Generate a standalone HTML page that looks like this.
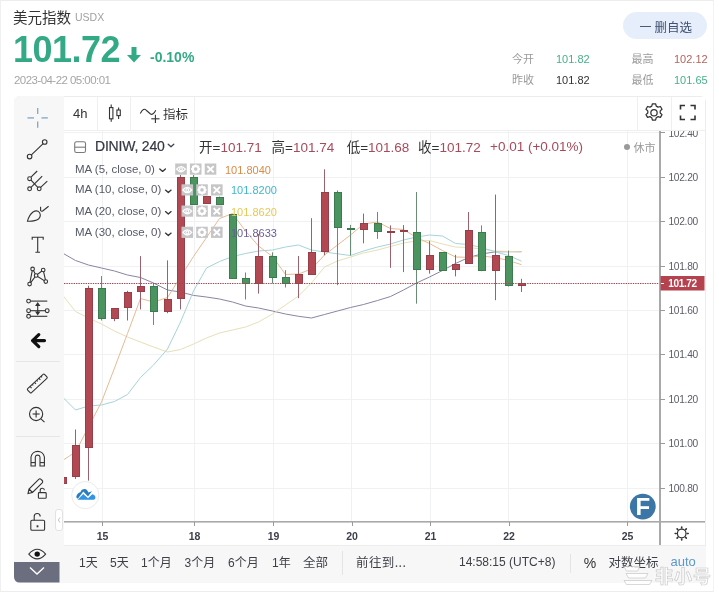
<!DOCTYPE html>
<html><head><meta charset="utf-8">
<style>
*{margin:0;padding:0;box-sizing:border-box}
html,body{width:719px;height:593px;overflow:hidden;background:#fff}
body{position:relative;font-family:"Liberation Sans","Noto Sans CJK SC",sans-serif;color:#333}
.a{position:absolute;white-space:nowrap}
.cjk{font-family:"Noto Sans CJK SC","Liberation Sans",sans-serif}
#pageb{position:absolute;left:0;top:0;width:714px;height:592px;border-top:1px solid #ededed;border-left:1px solid #f0f0f0;border-right:1px solid #f3f3f3;border-bottom:1px solid #ededed}
#box{position:absolute;left:14px;top:96px;width:692px;height:487px;border:1px solid #ececec;border-radius:6px;overflow:hidden;background:#fff}
#ltb{position:absolute;left:14px;top:96px;width:50px;height:487px;background:#f7f7f8;border-radius:6px 0 0 6px}
#btb{position:absolute;left:64px;top:545px;width:642px;height:38px;background:#f7f7f8;border-radius:0 0 6px 0}
#ttb{position:absolute;left:64px;top:97px;width:641px;height:34px;border-bottom:1px solid #efefef;background:#fff}
.vsep{position:absolute;width:1px;background:#efefef}
.hsep{position:absolute;height:1px;background:#e6e6e6}
.pl{position:absolute;margin-top:1px;left:668.5px;font-size:10.2px;color:#5a5d66;line-height:14px;letter-spacing:-0.3px}
.ptk{position:absolute;left:660px;width:5px;height:1px;background:#9a9a9a}
.tl{position:absolute;top:528.5px;width:30px;text-align:center;font-size:10.5px;font-weight:bold;color:#3c3f4a;line-height:14px}
.ttk{position:absolute;top:522px;width:1px;height:4px;background:#9a9a9a}
.mal{position:absolute;left:75px;font-size:11.5px;color:#555a66;line-height:14px}
.mav{position:absolute;font-size:11px;line-height:14px}
.ib{position:absolute;width:12px;height:11px;background:#c9c9cb}
.bt{position:absolute;top:554px;font-size:12px;color:#3d3f45;line-height:16px}
</style></head><body>
<div id="pageb"></div>

<!-- header -->
<div class="a cjk" style="left:13px;top:6.5px;font-size:14.5px;color:#333;line-height:20px">美元指数</div>
<div class="a" style="left:75px;top:11px;font-size:10.5px;color:#a0a0a0;line-height:13px">USDX</div>
<div class="a" style="left:13px;top:29.5px;font-size:36px;font-weight:bold;color:#33aa85;line-height:40px;letter-spacing:-0.5px">101.72</div>
<svg class="a" style="left:126px;top:46px" width="16" height="17" viewBox="0 0 16 17"><path d="M5.5 1h5v8h4.5L8 16.5 1 9h4.5z" fill="#33aa85"/></svg>
<div class="a" style="left:150px;top:49px;font-size:14px;font-weight:bold;color:#33aa85;line-height:16px">-0.10%</div>
<div class="a" style="left:14px;top:73px;font-size:11.5px;color:#a5a5a5;line-height:14px;letter-spacing:-0.55px">2023-04-22 05:00:01</div>

<div class="a" style="left:623px;top:12px;width:84px;height:27px;border-radius:14px;background:#e7eefb"></div>
<div class="a" style="left:640px;top:25.5px;width:11px;height:1px;background:#4a5a75"></div>
<div class="a cjk" style="left:654.5px;top:17.5px;font-size:12.5px;color:#3f5070;line-height:18px">删自选</div>

<div class="a cjk" style="left:512px;top:51.3px;font-size:11px;color:#9a9a9a;line-height:15px">今开</div>
<div class="a" style="left:556px;top:52px;font-size:11px;color:#47b08c;line-height:14px">101.82</div>
<div class="a cjk" style="left:631.5px;top:51.3px;font-size:11px;color:#9a9a9a;line-height:15px">最高</div>
<div class="a" style="left:674px;top:52px;font-size:11px;color:#b4635c;line-height:14px">102.12</div>
<div class="a cjk" style="left:512px;top:72.3px;font-size:11px;color:#9a9a9a;line-height:15px">昨收</div>
<div class="a" style="left:556px;top:73px;font-size:11px;color:#333;line-height:14px">101.82</div>
<div class="a cjk" style="left:631.5px;top:72.3px;font-size:11px;color:#9a9a9a;line-height:15px">最低</div>
<div class="a" style="left:674px;top:73px;font-size:11px;color:#47b08c;line-height:14px">101.65</div>

<!-- chart container -->
<div id="box"></div>
<div id="ltb"></div>
<div id="btb"></div>
<div id="ttb"></div>
<!-- toolbar separators -->
<div class="vsep" style="left:97px;top:97px;height:33px"></div>
<div class="vsep" style="left:130px;top:97px;height:33px"></div>
<div class="vsep" style="left:194px;top:97px;height:33px"></div>
<div class="vsep" style="left:637px;top:97px;height:33px"></div>
<div class="vsep" style="left:671px;top:97px;height:33px"></div>
<div class="hsep" style="left:16px;top:361px;width:44px"></div>
<div class="hsep" style="left:16px;top:436px;width:44px"></div>
<div class="vsep" style="left:342px;top:551px;height:24px;background:#e4e4e4"></div>
<div class="vsep" style="left:570px;top:554px;height:19px;background:#e4e4e4"></div>
<!-- time axis bottom border -->
<div class="a" style="left:64px;top:545px;width:642px;height:1px;background:#ececec"></div>

<!-- top toolbar content -->
<div class="a" style="left:73px;top:106px;font-size:13px;color:#333;line-height:16px">4h</div>
<svg class="a" style="left:100px;top:100px" width="100" height="28" viewBox="100 100 100 28">
 <g stroke="#333" stroke-width="1.1" fill="none">
  <line x1="111.2" y1="104.5" x2="111.2" y2="121.8"/><rect x="109.5" y="107.6" width="3.4" height="11.2" fill="#fff"/>
  <line x1="118.6" y1="107.5" x2="118.6" y2="119"/><rect x="116.9" y="110" width="3.4" height="5.6" fill="#fff"/>
  <path d="M140.3 113.4 Q143.5 107 146.5 110.5 L150.5 114 Q153 115.5 155.8 110.3"/>
  <line x1="151.3" y1="118.8" x2="159.5" y2="118.8"/><line x1="155.4" y1="114.7" x2="155.4" y2="122.9"/>
 </g>
</svg>
<div class="a cjk" style="left:163px;top:105px;font-size:12.5px;color:#333;line-height:18px">指标</div>
<!-- gear & fullscreen -->
<svg class="a" style="left:640px;top:100px" width="66" height="28" viewBox="640 100 66 28">
 <g fill="none" stroke="#333" stroke-width="1.2">
  <g transform="translate(654 112.7) scale(1.13) translate(-654 -112.7)"><path d="M652.6 104.8 h2.8 l0.6 2.1 1.6 0.9 2.1-0.6 1.4 2.4 -1.6 1.5 v1.8 l1.6 1.5 -1.4 2.4 -2.1-0.6 -1.6 0.9 -0.6 2.1 h-2.8 l-0.6-2.1 -1.6-0.9 -2.1 0.6 -1.4-2.4 1.6-1.5 v-1.8 l-1.6-1.5 1.4-2.4 2.1 0.6 1.6-0.9z" stroke-linejoin="round" stroke-width="1.1"/><circle cx="654" cy="112.7" r="2.8" stroke-width="1.1"/></g>
  <path d="M680.5 109.5v-4h4.5 M690.5 105.5h4.5v4 M695 115.5v4h-4.5 M685 119.5h-4.5v-4" stroke-width="1.6"/>
 </g>
</svg>

<!-- chart -->
<svg class="a" style="left:0;top:0" width="719" height="593" viewBox="0 0 719 593">
<defs><clipPath id="cp"><rect x="64" y="131" width="595" height="390"/></clipPath></defs>
<g clip-path="url(#cp)">
<line x1="102.5" y1="131" x2="102.5" y2="521" stroke="#f0f1f3" stroke-width="1"/>
<line x1="194.5" y1="131" x2="194.5" y2="521" stroke="#f0f1f3" stroke-width="1"/>
<line x1="273.5" y1="131" x2="273.5" y2="521" stroke="#f0f1f3" stroke-width="1"/>
<line x1="351.5" y1="131" x2="351.5" y2="521" stroke="#f0f1f3" stroke-width="1"/>
<line x1="430.5" y1="131" x2="430.5" y2="521" stroke="#f0f1f3" stroke-width="1"/>
<line x1="508.5" y1="131" x2="508.5" y2="521" stroke="#f0f1f3" stroke-width="1"/>
<line x1="627.5" y1="131" x2="627.5" y2="521" stroke="#f0f1f3" stroke-width="1"/>
<line x1="64" y1="132.5" x2="659" y2="132.5" stroke="#f0f1f3" stroke-width="1"/>
<line x1="64" y1="177.5" x2="659" y2="177.5" stroke="#f0f1f3" stroke-width="1"/>
<line x1="64" y1="221.5" x2="659" y2="221.5" stroke="#f0f1f3" stroke-width="1"/>
<line x1="64" y1="266.5" x2="659" y2="266.5" stroke="#f0f1f3" stroke-width="1"/>
<line x1="64" y1="310.5" x2="659" y2="310.5" stroke="#f0f1f3" stroke-width="1"/>
<line x1="64" y1="354.5" x2="659" y2="354.5" stroke="#f0f1f3" stroke-width="1"/>
<line x1="64" y1="399.5" x2="659" y2="399.5" stroke="#f0f1f3" stroke-width="1"/>
<line x1="64" y1="443.5" x2="659" y2="443.5" stroke="#f0f1f3" stroke-width="1"/>
<line x1="64" y1="488.5" x2="659" y2="488.5" stroke="#f0f1f3" stroke-width="1"/>
<polyline points="62.5,253.0 75.5,260.5 88.5,265.0 101.5,268.0 114.5,271.0 127.5,275.0 140.5,277.5 153.5,283.0 167.5,290.0 180.5,292.0 193.5,295.4 206.5,297.0 219.5,299.0 232.5,302.0 245.5,306.0 258.5,308.0 272.5,311.0 285.5,314.0 298.5,316.3 311.5,318.0 324.5,314.5 337.5,311.0 350.5,307.5 363.5,304.5 377.5,300.5 390.5,296.5 403.5,290.0 416.5,283.0 429.5,277.0 442.5,270.5 455.5,263.5 468.5,257.5 481.5,254.0 495.5,251.8 508.5,251.7 521.5,251.7" fill="none" stroke="#8a85a3" stroke-width="1" stroke-linejoin="round"/>
<polyline points="62.5,295.0 75.5,311.5 88.5,318.0 101.5,324.0 114.5,331.0 127.5,337.0 140.5,342.0 153.5,347.0 167.5,352.0 180.5,349.5 193.5,344.0 206.5,338.0 219.5,333.0 232.5,330.0 245.5,327.0 258.5,322.0 272.5,314.0 285.5,305.0 298.5,296.0 311.5,283.0 324.5,267.0 337.5,261.0 350.5,257.0 363.5,253.0 377.5,250.0 390.5,246.5 403.5,243.0 416.5,241.0 429.5,240.5 442.5,244.0 455.5,247.0 468.5,247.5 481.5,249.0 495.5,251.0 508.5,251.5 521.5,251.8" fill="none" stroke="#e6e0b6" stroke-width="1" stroke-linejoin="round"/>
<polyline points="62.5,397.0 75.5,410.0 88.5,406.0 101.5,405.0 114.5,401.5 127.5,394.5 140.5,377.5 153.5,365.0 167.5,349.0 180.5,322.0 193.5,291.0 206.5,268.0 219.5,261.5 232.5,256.5 245.5,253.5 258.5,251.0 272.5,250.0 285.5,247.0 298.5,245.0 311.5,250.0 324.5,252.0 337.5,253.8 350.5,255.5 363.5,251.0 377.5,247.0 390.5,244.0 403.5,240.0 416.5,237.0 429.5,235.0 442.5,236.0 455.5,243.5 468.5,244.5 481.5,247.5 495.5,252.0 508.5,255.5 521.5,261.2" fill="none" stroke="#a6d4da" stroke-width="1" stroke-linejoin="round"/>
<polyline points="62.5,460.5 75.5,452.0 88.5,427.0 101.5,402.0 114.5,368.0 127.5,333.5 140.5,298.5 153.5,302.0 167.5,297.5 180.5,277.0 193.5,256.5 206.5,237.5 219.5,218.5 232.5,213.5 245.5,231.0 258.5,246.0 272.5,256.5 285.5,274.5 298.5,274.0 311.5,269.0 324.5,255.0 337.5,245.0 350.5,235.0 363.5,224.0 377.5,222.0 390.5,228.5 403.5,229.5 416.5,237.5 429.5,243.5 442.5,250.5 455.5,257.0 468.5,257.3 481.5,256.0 495.5,257.5 508.5,260.5 521.5,264.7" fill="none" stroke="#e7bb94" stroke-width="1" stroke-linejoin="round"/>
<line x1="62.5" y1="476.6" x2="62.5" y2="483.5" stroke="#9a626a" stroke-width="1"/>
<rect x="59" y="477" width="8" height="7" fill="#963f4a"/>
<rect x="60" y="478" width="6" height="5" fill="#b24852"/>
<line x1="75.5" y1="429.5" x2="75.5" y2="479.0" stroke="#9a626a" stroke-width="1"/>
<rect x="72" y="445" width="8" height="32" fill="#963f4a"/>
<rect x="73" y="446" width="6" height="30" fill="#b24852"/>
<line x1="88.5" y1="285.7" x2="88.5" y2="480.6" stroke="#9a626a" stroke-width="1"/>
<rect x="85" y="288" width="8" height="160" fill="#963f4a"/>
<rect x="86" y="289" width="6" height="158" fill="#b24852"/>
<line x1="101.5" y1="276.1" x2="101.5" y2="320.5" stroke="#6a8c74" stroke-width="1"/>
<rect x="98" y="288" width="8" height="31" fill="#3c7b4e"/>
<rect x="99" y="289" width="6" height="29" fill="#4b935f"/>
<line x1="114.5" y1="308.0" x2="114.5" y2="321.2" stroke="#9a626a" stroke-width="1"/>
<rect x="111" y="308" width="8" height="11" fill="#963f4a"/>
<rect x="112" y="309" width="6" height="9" fill="#b24852"/>
<line x1="127.5" y1="290.8" x2="127.5" y2="320.5" stroke="#9a626a" stroke-width="1"/>
<rect x="124" y="292" width="8" height="16" fill="#963f4a"/>
<rect x="125" y="293" width="6" height="14" fill="#b24852"/>
<line x1="140.5" y1="256.1" x2="140.5" y2="309.4" stroke="#9a626a" stroke-width="1"/>
<rect x="137" y="286" width="8" height="6" fill="#963f4a"/>
<rect x="138" y="287" width="6" height="4" fill="#b24852"/>
<line x1="153.5" y1="283.0" x2="153.5" y2="325.0" stroke="#6a8c74" stroke-width="1"/>
<rect x="150" y="286" width="8" height="26" fill="#3c7b4e"/>
<rect x="151" y="287" width="6" height="24" fill="#4b935f"/>
<line x1="167.5" y1="260.4" x2="167.5" y2="313.2" stroke="#9a626a" stroke-width="1"/>
<rect x="164" y="299" width="8" height="13" fill="#963f4a"/>
<rect x="165" y="300" width="6" height="11" fill="#b24852"/>
<line x1="180.5" y1="175.0" x2="180.5" y2="309.4" stroke="#9a626a" stroke-width="1"/>
<rect x="177" y="177" width="8" height="122" fill="#963f4a"/>
<rect x="178" y="178" width="6" height="120" fill="#b24852"/>
<line x1="193.5" y1="175.0" x2="193.5" y2="205.0" stroke="#6a8c74" stroke-width="1"/>
<rect x="190" y="177" width="8" height="28" fill="#3c7b4e"/>
<rect x="191" y="178" width="6" height="26" fill="#4b935f"/>
<line x1="206.5" y1="196.3" x2="206.5" y2="204.0" stroke="#9a626a" stroke-width="1"/>
<rect x="203" y="196" width="8" height="8" fill="#963f4a"/>
<rect x="204" y="197" width="6" height="6" fill="#b24852"/>
<line x1="219.5" y1="196.6" x2="219.5" y2="204.7" stroke="#6a8c74" stroke-width="1"/>
<rect x="216" y="197" width="8" height="8" fill="#3c7b4e"/>
<rect x="217" y="198" width="6" height="6" fill="#4b935f"/>
<line x1="232.5" y1="214.3" x2="232.5" y2="278.9" stroke="#6a8c74" stroke-width="1"/>
<rect x="229" y="214" width="8" height="65" fill="#3c7b4e"/>
<rect x="230" y="215" width="6" height="63" fill="#4b935f"/>
<line x1="245.5" y1="272.5" x2="245.5" y2="299.5" stroke="#6a8c74" stroke-width="1"/>
<rect x="242" y="278" width="8" height="6" fill="#3c7b4e"/>
<rect x="243" y="279" width="6" height="4" fill="#4b935f"/>
<line x1="258.5" y1="234.0" x2="258.5" y2="293.6" stroke="#9a626a" stroke-width="1"/>
<rect x="255" y="256" width="8" height="28" fill="#963f4a"/>
<rect x="256" y="257" width="6" height="26" fill="#b24852"/>
<line x1="272.5" y1="252.3" x2="272.5" y2="283.5" stroke="#6a8c74" stroke-width="1"/>
<rect x="269" y="256" width="8" height="22" fill="#3c7b4e"/>
<rect x="270" y="257" width="6" height="20" fill="#4b935f"/>
<line x1="285.5" y1="270.2" x2="285.5" y2="287.5" stroke="#6a8c74" stroke-width="1"/>
<rect x="282" y="277" width="8" height="7" fill="#3c7b4e"/>
<rect x="283" y="278" width="6" height="5" fill="#4b935f"/>
<line x1="298.5" y1="256.0" x2="298.5" y2="298.2" stroke="#9a626a" stroke-width="1"/>
<rect x="295" y="274" width="8" height="10" fill="#963f4a"/>
<rect x="296" y="275" width="6" height="8" fill="#b24852"/>
<line x1="311.5" y1="218.2" x2="311.5" y2="275.0" stroke="#9a626a" stroke-width="1"/>
<rect x="308" y="252" width="8" height="23" fill="#963f4a"/>
<rect x="309" y="253" width="6" height="21" fill="#b24852"/>
<line x1="324.5" y1="169.3" x2="324.5" y2="255.2" stroke="#9a626a" stroke-width="1"/>
<rect x="321" y="192" width="8" height="60" fill="#963f4a"/>
<rect x="322" y="193" width="6" height="58" fill="#b24852"/>
<line x1="337.5" y1="190.4" x2="337.5" y2="285.2" stroke="#6a8c74" stroke-width="1"/>
<rect x="334" y="192" width="8" height="36" fill="#3c7b4e"/>
<rect x="335" y="193" width="6" height="34" fill="#4b935f"/>
<line x1="350.5" y1="224.9" x2="350.5" y2="255.5" stroke="#6a8c74" stroke-width="1"/>
<rect x="347" y="228" width="8" height="2" fill="#3c7b4e"/>
<line x1="363.5" y1="213.6" x2="363.5" y2="243.3" stroke="#9a626a" stroke-width="1"/>
<rect x="360" y="223" width="8" height="7" fill="#963f4a"/>
<rect x="361" y="224" width="6" height="5" fill="#b24852"/>
<line x1="377.5" y1="211.9" x2="377.5" y2="238.9" stroke="#6a8c74" stroke-width="1"/>
<rect x="374" y="223" width="8" height="9" fill="#3c7b4e"/>
<rect x="375" y="224" width="6" height="7" fill="#4b935f"/>
<line x1="390.5" y1="225.4" x2="390.5" y2="267.8" stroke="#9a626a" stroke-width="1"/>
<rect x="387" y="231" width="8" height="2" fill="#963f4a"/>
<line x1="403.5" y1="225.1" x2="403.5" y2="272.1" stroke="#9a626a" stroke-width="1"/>
<rect x="400" y="230" width="8" height="2" fill="#963f4a"/>
<line x1="416.5" y1="192.0" x2="416.5" y2="303.7" stroke="#6a8c74" stroke-width="1"/>
<rect x="413" y="232" width="8" height="38" fill="#3c7b4e"/>
<rect x="414" y="233" width="6" height="36" fill="#4b935f"/>
<line x1="429.5" y1="240.9" x2="429.5" y2="273.6" stroke="#9a626a" stroke-width="1"/>
<rect x="426" y="255" width="8" height="15" fill="#963f4a"/>
<rect x="427" y="256" width="6" height="13" fill="#b24852"/>
<line x1="442.5" y1="252.3" x2="442.5" y2="270.6" stroke="#6a8c74" stroke-width="1"/>
<rect x="439" y="252" width="8" height="19" fill="#3c7b4e"/>
<rect x="440" y="253" width="6" height="17" fill="#4b935f"/>
<line x1="455.5" y1="254.8" x2="455.5" y2="276.4" stroke="#9a626a" stroke-width="1"/>
<rect x="452" y="264" width="8" height="6" fill="#963f4a"/>
<rect x="453" y="265" width="6" height="4" fill="#b24852"/>
<line x1="468.5" y1="212.0" x2="468.5" y2="264.0" stroke="#9a626a" stroke-width="1"/>
<rect x="465" y="230" width="8" height="34" fill="#963f4a"/>
<rect x="466" y="231" width="6" height="32" fill="#b24852"/>
<line x1="481.5" y1="225.4" x2="481.5" y2="271.2" stroke="#6a8c74" stroke-width="1"/>
<rect x="478" y="232" width="8" height="39" fill="#3c7b4e"/>
<rect x="479" y="233" width="6" height="37" fill="#4b935f"/>
<line x1="495.5" y1="194.6" x2="495.5" y2="300.2" stroke="#9a626a" stroke-width="1"/>
<rect x="492" y="255" width="8" height="16" fill="#963f4a"/>
<rect x="493" y="256" width="6" height="14" fill="#b24852"/>
<line x1="508.5" y1="250.6" x2="508.5" y2="286.5" stroke="#6a8c74" stroke-width="1"/>
<rect x="505" y="256" width="8" height="30" fill="#3c7b4e"/>
<rect x="506" y="257" width="6" height="28" fill="#4b935f"/>
<line x1="521.5" y1="278.8" x2="521.5" y2="292.0" stroke="#9a626a" stroke-width="1"/>
<rect x="518" y="283" width="8" height="3" fill="#963f4a"/>
<rect x="519" y="284" width="6" height="1" fill="#b24852"/>
<line x1="64" y1="283.5" x2="659" y2="283.5" stroke="#9a4a55" stroke-width="1" stroke-dasharray="1.4 1"/>
</g>
<!-- axes -->
<rect x="659" y="131" width="2" height="414" fill="#a9a9a9"/>
<rect x="64" y="521" width="641" height="1.6" fill="#a9a9a9"/>
<!-- price label -->
<rect x="660.5" y="276" width="44" height="14.5" fill="#b5434f"/>
<rect x="661" y="283" width="3" height="1" fill="#fff"/>
<!-- TV logo -->
<circle cx="85.3" cy="495.1" r="13.6" fill="#fff" stroke="#ebebeb" stroke-width="1"/>
<path d="M76.2 497.2 C76.4 494.6 78.2 492.6 80.4 492.2 C81.2 490 82.8 489 84.6 489.1 C86.6 489.3 87.6 490.8 88.4 492.4 L91.9 491.3 L88 496.4 L83.3 491.6 L77.8 498.8 Z" fill="#2a7dbf"/>
<path d="M77.6 499.8 L83.3 493.9 L88 498.3 L92.3 494.2 C94.3 494.4 95.6 496 95.4 497.8 C95.3 499.1 94.5 499.8 93.4 499.8 Z" fill="#3194e4"/>
<!-- F badge -->
<circle cx="642.8" cy="506.6" r="12.9" fill="#3b76a6"/>
<!-- bottom gear -->
<g fill="none" stroke="#333" stroke-width="1.2">
 <circle cx="681.7" cy="533.5" r="4.3"/>
 <g stroke-width="1.6" stroke-linecap="round">
 <line x1="681.7" y1="527" x2="681.7" y2="528"/><line x1="681.7" y1="539" x2="681.7" y2="540"/>
 <line x1="675.2" y1="533.5" x2="676.2" y2="533.5"/><line x1="687.2" y1="533.5" x2="688.2" y2="533.5"/>
 <line x1="677.1" y1="528.9" x2="677.8" y2="529.6"/><line x1="685.6" y1="537.4" x2="686.3" y2="538.1"/>
 <line x1="686.3" y1="528.9" x2="685.6" y2="529.6"/><line x1="677.8" y1="537.4" x2="677.1" y2="538.1"/>
 </g>
</g>
<!-- left toolbar icons -->
<g fill="none" stroke="#333" stroke-width="1.1">
 <g stroke="#7ea6c3" stroke-width="1.3">
  <line x1="37.7" y1="108" x2="37.7" y2="114"/><line x1="37.7" y1="121.5" x2="37.7" y2="127.8"/>
  <line x1="27.5" y1="117.9" x2="34" y2="117.9"/><line x1="41.5" y1="117.9" x2="47.8" y2="117.9"/>
 </g>
 <line x1="31.4" y1="154.8" x2="42.9" y2="143.8"/>
 <circle cx="29.6" cy="156.6" r="2.3"/><circle cx="44.7" cy="142" r="2.3"/>
 <!-- pitchfork -->
 <line x1="31" y1="177.2" x2="37.2" y2="171"/>
 <line x1="31" y1="187.4" x2="42.2" y2="176.1"/>
 <line x1="40.6" y1="187.4" x2="47.3" y2="181.2"/>
 <line x1="31" y1="180.2" x2="37.8" y2="187.3"/>
 <circle cx="29.6" cy="178.7" r="1.9"/><circle cx="29.6" cy="188.8" r="1.9"/><circle cx="39.2" cy="188.8" r="1.9"/>
 <!-- brush -->
 <path d="M27.5 221.2 Q29 215 33 212 Q37 209.5 39.5 212.5 Q41.5 216 38.5 219 Q35 221.5 27.5 221.2 Z"/>
 <path d="M40.6 206.8 V210.5 Q41.5 211.8 43 210.8 L48.6 206.3"/>
 <!-- T -->
 <path d="M32.2 239.8 V237.2 H43.2 V239.8 M37.7 237.2 V252.2 M35.4 252.2 H40" />
 <!-- pattern -->
 <path d="M29.6 284.1 L32.6 268.9 L36.1 275.5 L43.2 270 L45.8 281.6 L36.1 275.5 L29.6 284.1"/>
 <circle cx="32.6" cy="268.9" r="1.8" fill="#f7f7f8"/><circle cx="36.1" cy="275.5" r="1.8" fill="#f7f7f8"/><circle cx="43.2" cy="270" r="1.8" fill="#f7f7f8"/><circle cx="45.8" cy="281.6" r="1.8" fill="#f7f7f8"/><circle cx="29.6" cy="284.1" r="1.8" fill="#f7f7f8"/>
 <!-- measure -->
 <line x1="30.6" y1="301.1" x2="47.3" y2="301.1"/><circle cx="28.6" cy="301.1" r="1.9"/>
 <line x1="30.6" y1="310.7" x2="45.2" y2="310.7"/><circle cx="28.6" cy="310.7" r="1.9"/><circle cx="47.2" cy="310.7" r="1.9"/>
 <line x1="30.6" y1="316.3" x2="47.3" y2="316.3"/><circle cx="28.6" cy="316.3" r="1.9"/>
 <line x1="37.7" y1="304" x2="37.7" y2="313.5"/>
 <path d="M36 305.5 L37.7 303 L39.4 305.5 Z M36 312 L37.7 314.5 L39.4 312 Z" fill="#333"/>
 <!-- arrow -->
 <path d="M44.5 340.6 H32.5 M38.8 334.6 L32.6 340.6 L38.8 346.6" stroke="#111" stroke-width="3.2" stroke-linecap="round" stroke-linejoin="round"/>
 <!-- ruler -->
 <g transform="rotate(-43 37.3 383.5)">
  <rect x="25.8" y="380.7" width="23" height="5.6" rx="1"/>
  <path d="M30 380.7 v2.2 M33 380.7 v1.5 M36 380.7 v2.2 M39 380.7 v1.5 M42 380.7 v2.2 M45 380.7 v1.5"/>
 </g>
 <!-- zoom -->
 <circle cx="36.1" cy="414" r="6.6"/>
 <line x1="40.9" y1="418.8" x2="44.5" y2="422.2"/>
 <line x1="32.6" y1="414" x2="39.6" y2="414"/><line x1="36.1" y1="410.5" x2="36.1" y2="417.5"/>
 <!-- magnet -->
 <path d="M31 466 V457 A6.8 6.8 0 0 1 44.4 457 V466 H40 V457 A2.4 2.4 0 0 0 35.3 457 V466 Z"/>
 <line x1="31" y1="462.6" x2="35.3" y2="462.6"/><line x1="40" y1="462.6" x2="44.4" y2="462.6"/>
 <!-- pencil lock -->
 <path d="M28 493.6 L29 489 L38.7 479.3 A1.6 1.6 0 0 1 41 479.3 L42.2 480.5 A1.6 1.6 0 0 1 42.2 482.8 L32.5 492.5 Z M29 489 L32.5 492.5"/>
 <rect x="38.4" y="492.6" width="7.8" height="5.6" rx="0.8"/>
 <path d="M40.2 492.6 V490.5 A2.1 2.1 0 0 1 44.4 490.3"/>
 <!-- lock -->
 <rect x="30.8" y="520.2" width="13.8" height="10.1" rx="1.3"/>
 <path d="M34.2 520.2 V516.5 A3 3 0 0 1 40.2 516.5"/>
 <line x1="37.5" y1="525.3" x2="37.5" y2="527.3" stroke-width="1.8"/>
 <!-- eye -->
 <path d="M28.8 554.1 Q37.2 544.5 45.6 554.1 Q37.2 563.7 28.8 554.1 Z"/>
 <circle cx="37.2" cy="554.1" r="2.7" fill="#111" stroke="none"/>
</g>
<!-- dark expand button -->
<path d="M14 562 H59.5 V582.5 H20 Q14 582.5 14 576.5 Z" fill="#6b6e7e"/>
<path d="M30 567.5 L37 574 L44 567.5" fill="none" stroke="#fff" stroke-width="1.4"/>
<!-- small side handle -->
<rect x="55.5" y="509.5" width="7" height="21" rx="2.5" fill="#fff" stroke="#e2e2e2"/>
<path d="M60 517.5 L58.3 520 L60 522.5" fill="none" stroke="#bbb" stroke-width="0.9"/>
</svg>

<!-- legend -->
<svg class="a" style="left:74px;top:141px" width="13" height="13" viewBox="0 0 13 13"><rect x="0.7" y="0.7" width="10.8" height="10.8" rx="1.8" fill="none" stroke="#7a7a7a" stroke-width="1.1"/><line x1="0.7" y1="6.2" x2="11.5" y2="6.2" stroke="#7a7a7a" stroke-width="1.1"/></svg>
<div class="a" style="left:95px;top:137px;font-size:14px;color:#333744;line-height:18px;-webkit-text-stroke:0.2px #333744;letter-spacing:-0.2px">DINIW, 240</div>
<svg class="a" style="left:167px;top:143px" width="9" height="6" viewBox="0 0 9 6"><path d="M1.2 1.2 L4 3.8 L6.8 1.2" fill="none" stroke="#3f4350" stroke-width="1.3" stroke-linecap="round" stroke-linejoin="round"/></svg>
<div class="a" style="left:199px;top:137.5px;font-size:13.5px;line-height:17px"><span class="cjk" style="color:#333">开</span><span style="color:#333">=</span><span style="color:#a84a5a">101.71</span></div>
<div class="a" style="left:271.6px;top:137.5px;font-size:13.5px;line-height:17px"><span class="cjk" style="color:#333">高</span><span style="color:#333">=</span><span style="color:#a84a5a">101.74</span></div>
<div class="a" style="left:346.7px;top:137.5px;font-size:13.5px;line-height:17px"><span class="cjk" style="color:#333">低</span><span style="color:#333">=</span><span style="color:#a84a5a">101.68</span></div>
<div class="a" style="left:418px;top:137.5px;font-size:13.5px;line-height:17px"><span class="cjk" style="color:#333">收</span><span style="color:#333">=</span><span style="color:#a84a5a">101.72</span></div>
<div class="a" style="left:490px;top:137.5px;font-size:13.5px;line-height:17px;color:#a84a5a">+0.01 (+0.01%)</div>
<div class="a" style="left:624px;top:143.8px;width:6px;height:6px;border-radius:3px;background:#999"></div>
<div class="a cjk" style="left:633.5px;top:138.5px;font-size:11px;color:#999;line-height:16px">休市</div>

<div class="mal" style="top:162.3px">MA (5, close, 0)</div>
<div class="mal" style="top:182.3px">MA (10, close, 0)</div>
<div class="mal" style="top:204.3px">MA (20, close, 0)</div>
<div class="mal" style="top:225.3px">MA (30, close, 0)</div>
<svg class="a" style="left:150px;top:160px" width="30" height="80" viewBox="150 160 30 80">
 <g fill="none" stroke="#333" stroke-width="1.3" stroke-linecap="round" stroke-linejoin="round">
  <path d="M159.8 168.9 L162.6 171.4 L165.4 168.9"/>
  <path d="M165.5 190.1 L168.3 192.6 L171.1 190.1"/>
  <path d="M165.5 211.6 L168.3 214.1 L171.1 211.6"/>
  <path d="M165.5 233.1 L168.3 235.6 L171.1 233.1"/>
 </g>
</svg>
<!-- icon boxes -->
<svg class="a" style="left:170px;top:160px" width="60" height="85" viewBox="170 160 60 85">
 <g id="row5">
  <rect x="175.2" y="163.5" width="11.6" height="11.2" fill="#c6c6c8"/>
  <rect x="189.9" y="163.5" width="11.6" height="11.2" fill="#c6c6c8"/>
  <rect x="204.7" y="163.5" width="11.6" height="11.2" fill="#c6c6c8"/>
  <g fill="none" stroke="#fff" stroke-width="1.6">
   <path d="M176.6 169.2 Q181 164 185.4 169.2 Q181 174.4 176.6 169.2Z" stroke-width="1.3"/>
   <circle cx="181" cy="169.2" r="1.4" stroke-width="1.1"/>
   <circle cx="195.7" cy="169.1" r="2.9" stroke-width="2.2"/>
   <path d="M195.7 164.6 V166 M195.7 172.2 V173.6 M191.2 169.1 H192.6 M198.8 169.1 H200.2 M192.5 165.9 L193.5 166.9 M197.9 171.3 L198.9 172.3 M198.9 165.9 L197.9 166.9 M193.5 171.3 L192.5 172.3" stroke-width="2"/>
   <path d="M207.3 166.1 L213.7 172.3 M213.7 166.1 L207.3 172.3" stroke-width="1.9"/>
  </g>
 </g>
 <use href="#row5" transform="translate(6.3 20.8)"/>
 <use href="#row5" transform="translate(6.3 42)"/>
 <use href="#row5" transform="translate(6.3 63.2)"/>
</svg>
<div class="mav" style="left:225px;top:163px;color:#d98b47">101.8040</div>
<div class="mav" style="left:231px;top:183px;color:#40b7cf">101.8200</div>
<div class="mav" style="left:231px;top:205px;color:#e5c957">101.8620</div>
<div class="mav" style="left:231px;top:226px;color:#6a5d99">101.8633</div>

<!-- price axis labels -->
<div style="position:absolute;left:0;top:131px;width:719px;height:414px;overflow:hidden"><div style="position:absolute;left:0;top:-131px;width:719px;height:593px">
<div class="pl" style="top:125.5px">102.40</div>
<div class="ptk" style="top:132.0px"></div>
<div class="pl" style="top:169.9px">102.20</div>
<div class="ptk" style="top:177.0px"></div>
<div class="pl" style="top:214.2px">102.00</div>
<div class="ptk" style="top:221.0px"></div>
<div class="pl" style="top:258.6px">101.80</div>
<div class="ptk" style="top:266.0px"></div>
<div class="pl" style="top:303.0px">101.60</div>
<div class="ptk" style="top:310.0px"></div>
<div class="pl" style="top:347.4px">101.40</div>
<div class="ptk" style="top:354.0px"></div>
<div class="pl" style="top:391.7px">101.20</div>
<div class="ptk" style="top:399.0px"></div>
<div class="pl" style="top:436.1px">101.00</div>
<div class="ptk" style="top:443.0px"></div>
<div class="pl" style="top:480.5px">100.80</div>
<div class="ptk" style="top:488.0px"></div>
</div></div>
<div class="a" style="left:668.3px;top:276.5px;font-size:10px;font-weight:bold;color:#fff;line-height:14px;letter-spacing:-0.35px">101.72</div>
<!-- time axis labels -->
<div class="tl" style="left:87.6px">15</div><div class="ttk" style="left:102px"></div>
<div class="tl" style="left:179.5px">18</div><div class="ttk" style="left:194px"></div>
<div class="tl" style="left:258.5px">19</div><div class="ttk" style="left:273px"></div>
<div class="tl" style="left:337.0px">20</div><div class="ttk" style="left:352px"></div>
<div class="tl" style="left:415.5px">21</div><div class="ttk" style="left:430px"></div>
<div class="tl" style="left:494.0px">22</div><div class="ttk" style="left:509px"></div>
<div class="tl" style="left:612.5px">25</div><div class="ttk" style="left:627px"></div>
<div class="a" style="left:635.5px;top:493px;font-size:24px;font-weight:bold;color:#fff;line-height:27px">F</div>

<!-- bottom toolbar -->
<div class="bt" style="left:79px">1<span class="cjk">天</span></div>
<div class="bt" style="left:110px">5<span class="cjk">天</span></div>
<div class="bt" style="left:141px">1<span class="cjk">个月</span></div>
<div class="bt" style="left:184.5px">3<span class="cjk">个月</span></div>
<div class="bt" style="left:228px">6<span class="cjk">个月</span></div>
<div class="bt" style="left:272px">1<span class="cjk">年</span></div>
<div class="bt cjk" style="left:303px;font-size:12.5px">全部</div>
<div class="bt cjk" style="left:356px;font-size:12.5px;letter-spacing:0.4px">前往到...</div>
<div class="bt" style="left:459px">14:58:15 (UTC+8)</div>
<div class="bt" style="left:583.8px;top:554.5px;font-size:14px;color:#333">%</div>
<div class="bt cjk" style="left:608.5px;font-size:12.5px">对数坐标</div>
<div class="bt" style="left:670.5px;font-size:13px;color:#5d97cc">auto</div>
<!-- watermark -->
<svg class="a" style="left:620px;top:563px" width="36" height="24" viewBox="620 563 36 24"><g fill="rgba(255,255,255,0.85)" stroke="rgba(175,175,175,0.6)" stroke-width="0.8"><path d="M624 566.5 H640 L637.5 571 H626.5 Z"/><path d="M626 573.5 H648 L645.5 578 H628.5 Z"/><path d="M624 580.5 H652 L649.5 584.5 H626.5 Z"/></g></svg>
<div class="a cjk" style="left:655px;top:564px;font-size:18px;font-weight:bold;color:rgba(255,255,255,0.72);-webkit-text-stroke:0.7px rgba(170,170,170,0.6);line-height:22px;letter-spacing:1px">非小号</div>
</body></html>
